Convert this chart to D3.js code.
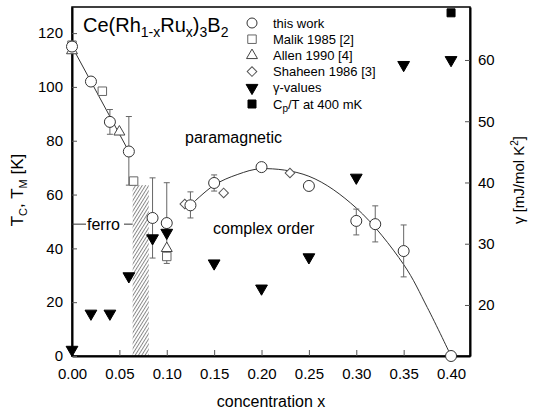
<!DOCTYPE html>
<html>
<head>
<meta charset="utf-8">
<script src="https://cdn.jsdelivr.net/npm/d3@7"></script>
<style>
  body { margin: 0; background: #fff; }
  svg { display: block; font-family: 'Liberation Sans', Arial, sans-serif; }
</style>
</head>
<body>
<svg id="chart" width="535" height="410"></svg>
<script>
// this work: x, T, error low, error high (null = no bar)
const workX   = [0, 0.02, 0.04, 0.06, 0.085, 0.10, 0.125, 0.15, 0.20, 0.25, 0.30, 0.32, 0.35, 0.40];
const workT   = [115, 102, 87, 76, 51.3, 49.4, 56, 64.3, 70.2, 63.2, 50.2, 49, 39, 0];
const workLo  = [null, null, 82.4, 63.5, 36.4, 34.4, 51.3, 61.3, null, null, 45, 42.4, 29.4, null];
const workHi  = [null, null, 91.6, 89, 66.2, 64.4, 61, 67.3, null, null, 54.6, 55.8, 48.7, null];

const malikX = [0, 0.032, 0.065, 0.10];
const malikT = [115.5, 98.4, 65, 37];
const allenX = [0, 0.05, 0.10];
const allenT = [113.5, 83.3, 40];
const shaheenX = [0.119, 0.16, 0.23];
const shaheenT = [56.5, 60.6, 68];

const gammaX = [0, 0.02, 0.04, 0.06, 0.085, 0.10, 0.15, 0.20, 0.25, 0.30, 0.35, 0.40];
const gammaV = [12.7, 18.6, 18.6, 24.7, 30.9, 31.8, 26.8, 22.7, 27.8, 40.8, 59.2, 60];
const cpX = [0.40];
const cpV = [67.7];

// guide lines drawn in the figure
const ferroLineX = [0, 0.06];
const ferroLineT = [115, 76];
const domeX = [0.125, 0.15, 0.175, 0.20, 0.25, 0.30, 0.35, 0.375, 0.40];
const domeT = [56, 63.5, 67.5, 69.6, 66.8, 55, 34, 18, 0];

const hatchX = [0.064, 0.081];
const hatchTop = 63.5;
const ferroT = 49;

const xTicks = [0, 0.05, 0.10, 0.15, 0.20, 0.25, 0.30, 0.35, 0.40];
const tTicks = [0, 20, 40, 60, 80, 100, 120];
const gTicks = [20, 30, 40, 50, 60];

const legendLabels = ['this work', 'Malik 1985 [2]', 'Allen 1990 [4]', 'Shaheen 1986 [3]', 'γ-values', 'Cp/T at 400 mK'];

const svg = d3.select('#chart');
const L = 72, R = 470, T = 7, B = 356;

const x = d3.scaleLinear().domain([0, 0.42]).range([L, R]);
const yT = d3.scaleLinear().domain([0, 129.7]).range([B, T]);
const yG = d3.scaleLinear().domain([11.67, 68.65]).range([B, T]);

// hatched band
const defs = svg.append('defs');
const pat = defs.append('pattern').attr('id', 'hatch').attr('patternUnits', 'userSpaceOnUse')
  .attr('width', 2.8).attr('height', 4).attr('patternTransform', 'rotate(32)');
pat.append('line').attr('x1', 0.5).attr('y1', 0).attr('x2', 0.5).attr('y2', 4)
  .attr('stroke', '#6a6a6a').attr('stroke-width', 0.8);
svg.append('rect')
  .attr('x', x(hatchX[0])).attr('y', yT(hatchTop))
  .attr('width', x(hatchX[1]) - x(hatchX[0])).attr('height', yT(0) - yT(hatchTop))
  .attr('fill', 'url(#hatch)');

// frame
svg.append('rect').attr('x', L).attr('y', T).attr('width', R - L).attr('height', B - T)
  .attr('fill', 'none').attr('stroke', '#000').attr('stroke-width', 1.5);

// axes
const styleAxis = g => {
  g.select('.domain').attr('stroke-width', 2);
  g.selectAll('.tick line').attr('stroke', '#555');
  g.selectAll('.tick text').attr('font-size', 15).attr('fill', '#000')
    .attr('font-family', "'Liberation Sans', Arial, sans-serif");
};
svg.append('g').attr('transform', `translate(0,${B})`)
  .call(d3.axisBottom(x).tickValues(xTicks).tickFormat(d3.format('.2f')).tickSize(-6).tickSizeOuter(0).tickPadding(12))
  .call(styleAxis);
svg.append('g').attr('transform', `translate(${L},0)`)
  .call(d3.axisLeft(yT).tickValues(tTicks).tickSize(-5).tickSizeOuter(0).tickPadding(9))
  .call(styleAxis);
svg.append('g').attr('transform', `translate(${R},0)`)
  .call(d3.axisRight(yG).tickValues(gTicks).tickSize(-5).tickSizeOuter(0).tickPadding(8))
  .call(styleAxis);

// axis titles
svg.append('text').attr('x', (L + R) / 2).attr('y', 407).attr('text-anchor', 'middle')
  .attr('font-size', 16).text('concentration x');

const yl = svg.append('text').attr('transform', 'translate(23,190) rotate(-90)')
  .attr('text-anchor', 'middle').attr('font-size', 17);
yl.append('tspan').text('T');
yl.append('tspan').attr('font-size', 11).attr('dy', 4).text('C');
yl.append('tspan').attr('dy', -4).text(', T');
yl.append('tspan').attr('font-size', 11).attr('dy', 4).text('M');
yl.append('tspan').attr('dy', -4).text(' [K]');

const yr = svg.append('text').attr('transform', 'translate(524,180) rotate(-90)')
  .attr('text-anchor', 'middle').attr('font-size', 15);
yr.append('tspan').text('γ [mJ/mol K');
yr.append('tspan').attr('font-size', 10).attr('dy', -6).text('2');
yr.append('tspan').attr('dy', 6).text(']');

// title
const ttl = svg.append('text').attr('x', 83).attr('y', 32).attr('font-size', 20);
ttl.append('tspan').text('Ce(Rh');
ttl.append('tspan').attr('font-size', 14).attr('dy', 5).text('1-x');
ttl.append('tspan').attr('dy', -5).text('Ru');
ttl.append('tspan').attr('font-size', 14).attr('dy', 5).text('x');
ttl.append('tspan').attr('dy', -5).text(')');
ttl.append('tspan').attr('font-size', 14).attr('dy', 5).text('3');
ttl.append('tspan').attr('dy', -5).text('B');
ttl.append('tspan').attr('font-size', 14).attr('dy', 5).text('2');

// region labels
svg.append('text').attr('x', 185).attr('y', 143).attr('font-size', 16).text('paramagnetic');
svg.append('text').attr('x', 213).attr('y', 234).attr('font-size', 16).text('complex order');
svg.append('text').attr('x', 87).attr('y', 230).attr('font-size', 16).text('ferro');
svg.append('line').attr('x1', L).attr('x2', 86).attr('y1', yT(ferroT)).attr('y2', yT(ferroT))
  .attr('stroke', '#333').attr('stroke-width', 1);
svg.append('line').attr('x1', 124).attr('x2', x(hatchX[0])).attr('y1', yT(ferroT)).attr('y2', yT(ferroT))
  .attr('stroke', '#333').attr('stroke-width', 1);

// guide curves
const lineT = d3.line().x(d => x(d[0])).y(d => yT(d[1]));
svg.append('path').datum(d3.zip(ferroLineX, ferroLineT)).attr('d', lineT)
  .attr('fill', 'none').attr('stroke', '#333').attr('stroke-width', 1);
svg.append('path').datum(d3.zip(domeX, domeT)).attr('d', lineT.curve(d3.curveCatmullRom))
  .attr('fill', 'none').attr('stroke', '#333').attr('stroke-width', 1);

// error bars
const errs = workX.map((v, i) => ({ x: v, lo: workLo[i], hi: workHi[i] })).filter(d => d.lo !== null);
const eb = svg.append('g').attr('stroke', '#666').attr('stroke-width', 1);
errs.forEach(d => {
  eb.append('line').attr('x1', x(d.x)).attr('x2', x(d.x)).attr('y1', yT(d.lo)).attr('y2', yT(d.hi));
  [d.lo, d.hi].forEach(v => eb.append('line')
    .attr('x1', x(d.x) - 3).attr('x2', x(d.x) + 3).attr('y1', yT(v)).attr('y2', yT(v)));
});

// markers
const sym = (type, size) => d3.symbol().type(type).size(size)();
const shapes = {
  square: { d: sym(d3.symbolSquare, 72), rot: 0, fill: '#fff', stroke: '#666' },
  triUp: { d: sym(d3.symbolTriangle, 52), rot: 0, fill: '#fff', stroke: '#444' },
  diamond: { d: sym(d3.symbolSquare, 46), rot: 45, fill: '#fff', stroke: '#555' },
  triDown: { d: sym(d3.symbolTriangle, 60), rot: 180, fill: '#000', stroke: '#000' },
  filled: { d: sym(d3.symbolSquare, 64), rot: 0, fill: '#000', stroke: '#000' }
};
function drawSymbols(xs, ys, yScale, shape) {
  svg.append('g').selectAll('path').data(d3.zip(xs, ys)).join('path')
    .attr('d', shape.d)
    .attr('transform', d => `translate(${x(d[0])},${yScale(d[1])}) rotate(${shape.rot})`)
    .attr('fill', shape.fill).attr('stroke', shape.stroke).attr('stroke-width', 1);
}
drawSymbols(malikX, malikT, yT, shapes.square);
drawSymbols(allenX, allenT, yT, shapes.triUp);
drawSymbols(shaheenX, shaheenT, yT, shapes.diamond);
svg.append('g').selectAll('circle').data(d3.zip(workX, workT)).join('circle')
  .attr('cx', d => x(d[0])).attr('cy', d => yT(d[1])).attr('r', 5.5)
  .attr('fill', '#fff').attr('stroke', '#333').attr('stroke-width', 1);
drawSymbols(gammaX, gammaV, yG, shapes.triDown);
drawSymbols(cpX, cpV, yG, shapes.filled);

// legend
const lg = svg.append('g').attr('transform', 'translate(252,23)');
const legShapes = ['circle', shapes.square, shapes.triUp, shapes.diamond, shapes.triDown, shapes.filled];
legendLabels.forEach((lab, i) => {
  const yy = i * 16.2;
  const s = legShapes[i];
  if (s === 'circle') {
    lg.append('circle').attr('cx', 0).attr('cy', yy).attr('r', 5)
      .attr('fill', '#fff').attr('stroke', '#333').attr('stroke-width', 1);
  } else {
    lg.append('path').attr('d', s.d).attr('transform', `translate(0,${yy}) rotate(${s.rot})`)
      .attr('fill', s.fill).attr('stroke', s.stroke).attr('stroke-width', 1);
  }
  const t = lg.append('text').attr('x', 21).attr('y', yy + 4.5).attr('font-size', 13);
  if (lab.startsWith('Cp')) {
    t.append('tspan').text('C');
    t.append('tspan').attr('font-size', 10).attr('dy', 3).text('p');
    t.append('tspan').attr('dy', -3).text('/T at 400 mK');
  } else {
    t.text(lab);
  }
});
</script>
</body>
</html>
